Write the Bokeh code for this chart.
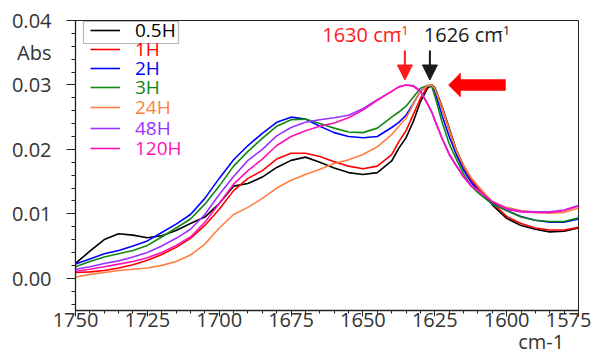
from bokeh.plotting import figure
from bokeh.models import (Range1d, FixedTicker, PrintfTickFormatter, CustomJSTickFormatter,
                          LinearAxis, Legend, LegendItem, Label, Arrow, NormalHead,
                          BoxAnnotation)
from bokeh.embed import file_html
from bokeh.resources import INLINE

# ---------------- data ----------------
wavenumber = [1750, 1745, 1740, 1735, 1730, 1725, 1720, 1715, 1710, 1705, 1700, 1695,
              1690, 1685, 1680, 1675, 1670, 1665, 1660, 1655, 1650, 1645, 1640,
              1637.5, 1635, 1632.5, 1630, 1627.5, 1626, 1625, 1622.5, 1620, 1617.5,
              1615, 1612.5, 1610, 1605, 1600, 1595, 1590, 1585, 1580, 1575]

abs_0_5h = [0.0023, 0.0042, 0.0060, 0.0069, 0.0067, 0.0063, 0.0066, 0.0074, 0.0085, 0.0095,
            0.0116, 0.0143, 0.0147, 0.0157, 0.0172, 0.0183, 0.0188, 0.0180, 0.0171, 0.0164,
            0.0161, 0.0164, 0.0182, 0.0202, 0.0218, 0.0243, 0.0274, 0.0295, 0.0300, 0.0296,
            0.0267, 0.0233, 0.0199, 0.0175, 0.0156, 0.0141, 0.0114, 0.0093, 0.0082, 0.0076,
            0.0072, 0.0073, 0.0078]
abs_1h = [0.0009, 0.0010, 0.0012, 0.0016, 0.0021, 0.0028, 0.0037, 0.0048, 0.0062, 0.0082,
          0.0107, 0.0136, 0.0155, 0.0167, 0.0185, 0.0194, 0.0194, 0.0189, 0.0181, 0.0174,
          0.0170, 0.0174, 0.0192, 0.0212, 0.0229, 0.0254, 0.0279, 0.0298, 0.0300, 0.0293,
          0.0264, 0.0230, 0.0196, 0.0172, 0.0154, 0.0140, 0.0117, 0.0096, 0.0085, 0.0078,
          0.0075, 0.0075, 0.0079]
abs_2h = [0.0022, 0.0030, 0.0038, 0.0043, 0.0050, 0.0058, 0.0071, 0.0084, 0.0099, 0.0124,
          0.0155, 0.0184, 0.0206, 0.0225, 0.0242, 0.0250, 0.0247, 0.0236, 0.0226, 0.0220,
          0.0218, 0.0220, 0.0234, 0.0242, 0.0253, 0.0271, 0.0290, 0.0299, 0.0299, 0.0290,
          0.0253, 0.0220, 0.0192, 0.0168, 0.0150, 0.0137, 0.0117, 0.0105, 0.0096, 0.0090,
          0.0087, 0.0087, 0.0092]
abs_3h = [0.0018, 0.0026, 0.0033, 0.0038, 0.0043, 0.0051, 0.0064, 0.0078, 0.0092, 0.0115,
          0.0143, 0.0174, 0.0197, 0.0217, 0.0236, 0.0246, 0.0247, 0.0240, 0.0233, 0.0227,
          0.0226, 0.0233, 0.0250, 0.0258, 0.0267, 0.0281, 0.0295, 0.0299, 0.0297, 0.0283,
          0.0243, 0.0209, 0.0185, 0.0162, 0.0144, 0.0133, 0.0115, 0.0105, 0.0095, 0.0090,
          0.0088, 0.0088, 0.0094]
abs_24h = [0.0002, 0.0006, 0.0009, 0.0012, 0.0014, 0.0016, 0.0020, 0.0026, 0.0036, 0.0053,
           0.0078, 0.0099, 0.0110, 0.0124, 0.0140, 0.0152, 0.0161, 0.0169, 0.0178, 0.0184,
           0.0192, 0.0204, 0.0223, 0.0236, 0.0248, 0.0270, 0.0290, 0.0299, 0.0300, 0.0294,
           0.0265, 0.0231, 0.0198, 0.0175, 0.0157, 0.0143, 0.0119, 0.0110, 0.0105, 0.0102,
           0.0101, 0.0102, 0.0109]
abs_48h = [0.0014, 0.0018, 0.0023, 0.0027, 0.0033, 0.0040, 0.0050, 0.0062, 0.0076, 0.0099,
           0.0130, 0.0158, 0.0183, 0.0200, 0.0221, 0.0234, 0.0242, 0.0246, 0.0249, 0.0253,
           0.0263, 0.0277, 0.0290, 0.0297, 0.0300, 0.0299, 0.0291, 0.0271, 0.0258, 0.0246,
           0.0218, 0.0193, 0.0175, 0.0158, 0.0145, 0.0137, 0.0119, 0.0108, 0.0104, 0.0103,
           0.0103, 0.0106, 0.0113]
abs_120h = [0.0011, 0.0014, 0.0018, 0.0022, 0.0026, 0.0032, 0.0040, 0.0051, 0.0064, 0.0087,
            0.0116, 0.0146, 0.0167, 0.0185, 0.0206, 0.0220, 0.0229, 0.0236, 0.0241, 0.0249,
            0.0261, 0.0276, 0.0290, 0.0297, 0.0300, 0.0298, 0.0290, 0.0270, 0.0257, 0.0245,
            0.0217, 0.0192, 0.0174, 0.0157, 0.0144, 0.0136, 0.0119, 0.0107, 0.0103, 0.0102,
            0.0102, 0.0105, 0.0112]

series_labels = ["0.5H", "1H", "2H", "3H", "24H", "48H", "120H"]
series_values = [abs_0_5h, abs_1h, abs_2h, abs_3h, abs_24h, abs_48h, abs_120h]
series_colors = ["#000000", "#ff0000", "#0000ff", "#118811", "#ff8040", "#9933ff", "#ff10b8"]

x_ticks = [1750, 1725, 1700, 1675, 1650, 1625, 1600, 1575]
y_ticks = [0.00, 0.01, 0.02, 0.03, 0.04]
y_title, y_title_pos = "Abs", 0.035
x_title, x_title_pos = "cm-1", 1588

peak_labels = ["1630 cm", "1626 cm"]
peak_positions = [1635.4, 1626.7]
peak_colors = ["#ff1a1a", "#1a1a1a"]

FONT = "Open Sans"
TXT = "#333333"

# ---------------- figure ----------------
W, H = 591, 358
BL, BR, BT, BB = 75, 13, 20, 48
X0, X1, Y0, Y1 = 1750, 1575, -0.005, 0.04
p = figure(width=W, height=H, x_range=Range1d(X0, X1), y_range=Range1d(Y0, Y1),
           output_backend="svg", toolbar_location=None,
           min_border_left=BL, min_border_right=BR, min_border_top=BT, min_border_bottom=BB)
p.background_fill_color = "white"
p.border_fill_color = "white"
p.grid.visible = False
p.outline_line_color = "#222222"
p.outline_line_width = 1

FW, FH = W - BL - BR, H - BT - BB
dxpp = (X0 - X1) / FW      # data units per pixel (x, leftwards positive)
dypp = (Y1 - Y0) / FH      # data units per pixel (y)

def fx(px):   # canvas px -> x data
    return X0 - (px - BL) * dxpp

def fy(py):   # canvas px -> y data
    return Y1 - (py - BT) * dypp

# inner axes: lines and tick marks (x also carries its tick labels)
p.xaxis.ticker = FixedTicker(ticks=x_ticks, minor_ticks=list(range(1575, 1751, 5)))
p.yaxis.ticker = FixedTicker(ticks=y_ticks, minor_ticks=[round(-0.004 + 0.002 * i, 3) for i in range(23)])
p.xaxis.formatter = PrintfTickFormatter(format="%d")
p.yaxis.formatter = CustomJSTickFormatter(code="return '';")
for ax in (p.xaxis, p.yaxis):
    ax.axis_line_color = "#222222"
    ax.axis_line_width = 1.3
    ax.major_tick_line_color = "#222222"
    ax.minor_tick_line_color = "#222222"
    ax.major_tick_in = 0
    ax.minor_tick_in = 0
    ax.major_label_text_font = FONT
    ax.major_label_text_font_size = "20px"
    ax.major_label_text_color = TXT
p.yaxis.major_tick_out = 9
p.yaxis.minor_tick_out = 4
p.yaxis.major_label_standoff = 0
p.xaxis.major_tick_out = 6
p.xaxis.minor_tick_out = 3
p.xaxis.major_label_standoff = -4

# outer y axis: tick labels plus the "Abs" title
y_fmt = CustomJSTickFormatter(args=dict(pos=y_title_pos, title=y_title),
                              code="return Math.abs(tick - pos) < 1e-6 ? title : tick.toFixed(2);")
y_lab = LinearAxis(ticker=FixedTicker(ticks=y_ticks + [y_title_pos], minor_ticks=[]),
                   formatter=y_fmt, axis_line_color=None, major_tick_out=0, major_tick_in=0,
                   minor_tick_out=0, minor_tick_in=0, major_label_standoff=15,
                   major_label_text_font=FONT, major_label_text_font_size="20px",
                   major_label_text_color=TXT)
p.add_layout(y_lab, "left")

# outer x axis: only the unit title
x_lab = LinearAxis(ticker=FixedTicker(ticks=[x_title_pos], minor_ticks=[]),
                   formatter=CustomJSTickFormatter(args=dict(title=x_title), code="return title;"),
                   axis_line_color=None, major_tick_out=0, major_tick_in=0,
                   minor_tick_out=0, minor_tick_in=0, major_label_standoff=-2,
                   major_label_text_font=FONT, major_label_text_font_size="20px",
                   major_label_text_color=TXT)
p.add_layout(x_lab, "below")

# curves
renderers = []
for vals, col in zip(series_values, series_colors):
    renderers.append(p.line(wavenumber, vals, line_color=col, line_width=1.6))

# legend: one legend per entry (each label has its own colour)
rows = [32.5, 51.5, 70.5, 89.5, 110, 130.5, 151]
for lab, col, ry, r in zip(series_labels, series_colors, rows, renderers):
    leg = Legend(items=[LegendItem(label=lab, renderers=[r])],
                 location=(15, (BT + FH) - ry - 10),
                 padding=0, margin=0, spacing=0,
                 border_line_color=None, background_fill_alpha=0,
                 glyph_width=30, glyph_height=20, label_height=20, label_standoff=15,
                 label_text_font=FONT, label_text_font_size="19px",
                 label_text_color=col)
    p.add_layout(leg)

p.add_layout(BoxAnnotation(left=fx(83), right=fx(178), top=fy(21), bottom=fy(43),
                           fill_alpha=0, line_color="#111111", line_width=1.2))

# peak annotations
for lab, xpos, col, lx, sx in zip(peak_labels, peak_positions, peak_colors,
                                  [321.7, 423.3], [396.5, 498]):
    p.add_layout(Label(x=fx(lx), y=fy(34), text=lab, text_align="left",
                       text_baseline="alphabetic", text_font=FONT, text_font_size="20px",
                       text_color=col))
    p.add_layout(Label(x=fx(sx), y=fy(30), text="-1", text_align="left",
                       text_baseline="alphabetic", text_font=FONT, text_font_size="13px",
                       text_color=col))
    p.add_layout(Arrow(x_start=xpos, y_start=fy(50), x_end=xpos, y_end=fy(79.5),
                       line_color=col, line_width=2,
                       end=NormalHead(size=15, fill_color=col, line_color=col, line_width=1)))

# big red block arrow (pointing left toward the 1626 peak)
tip_x, tip_y = fx(448), fy(84.5)
shape = [(0, 0), (12, -12), (12, -5.5), (57, -5.5), (57, 5.5), (12, 5.5), (12, 12)]
p.patch([tip_x - ox * dxpp for ox, oy in shape], [tip_y - oy * dypp for ox, oy in shape],
        fill_color="#ff0000", line_color="#ff0000", line_width=0.5)

open("out.html", "w").write(file_html(p, INLINE))
